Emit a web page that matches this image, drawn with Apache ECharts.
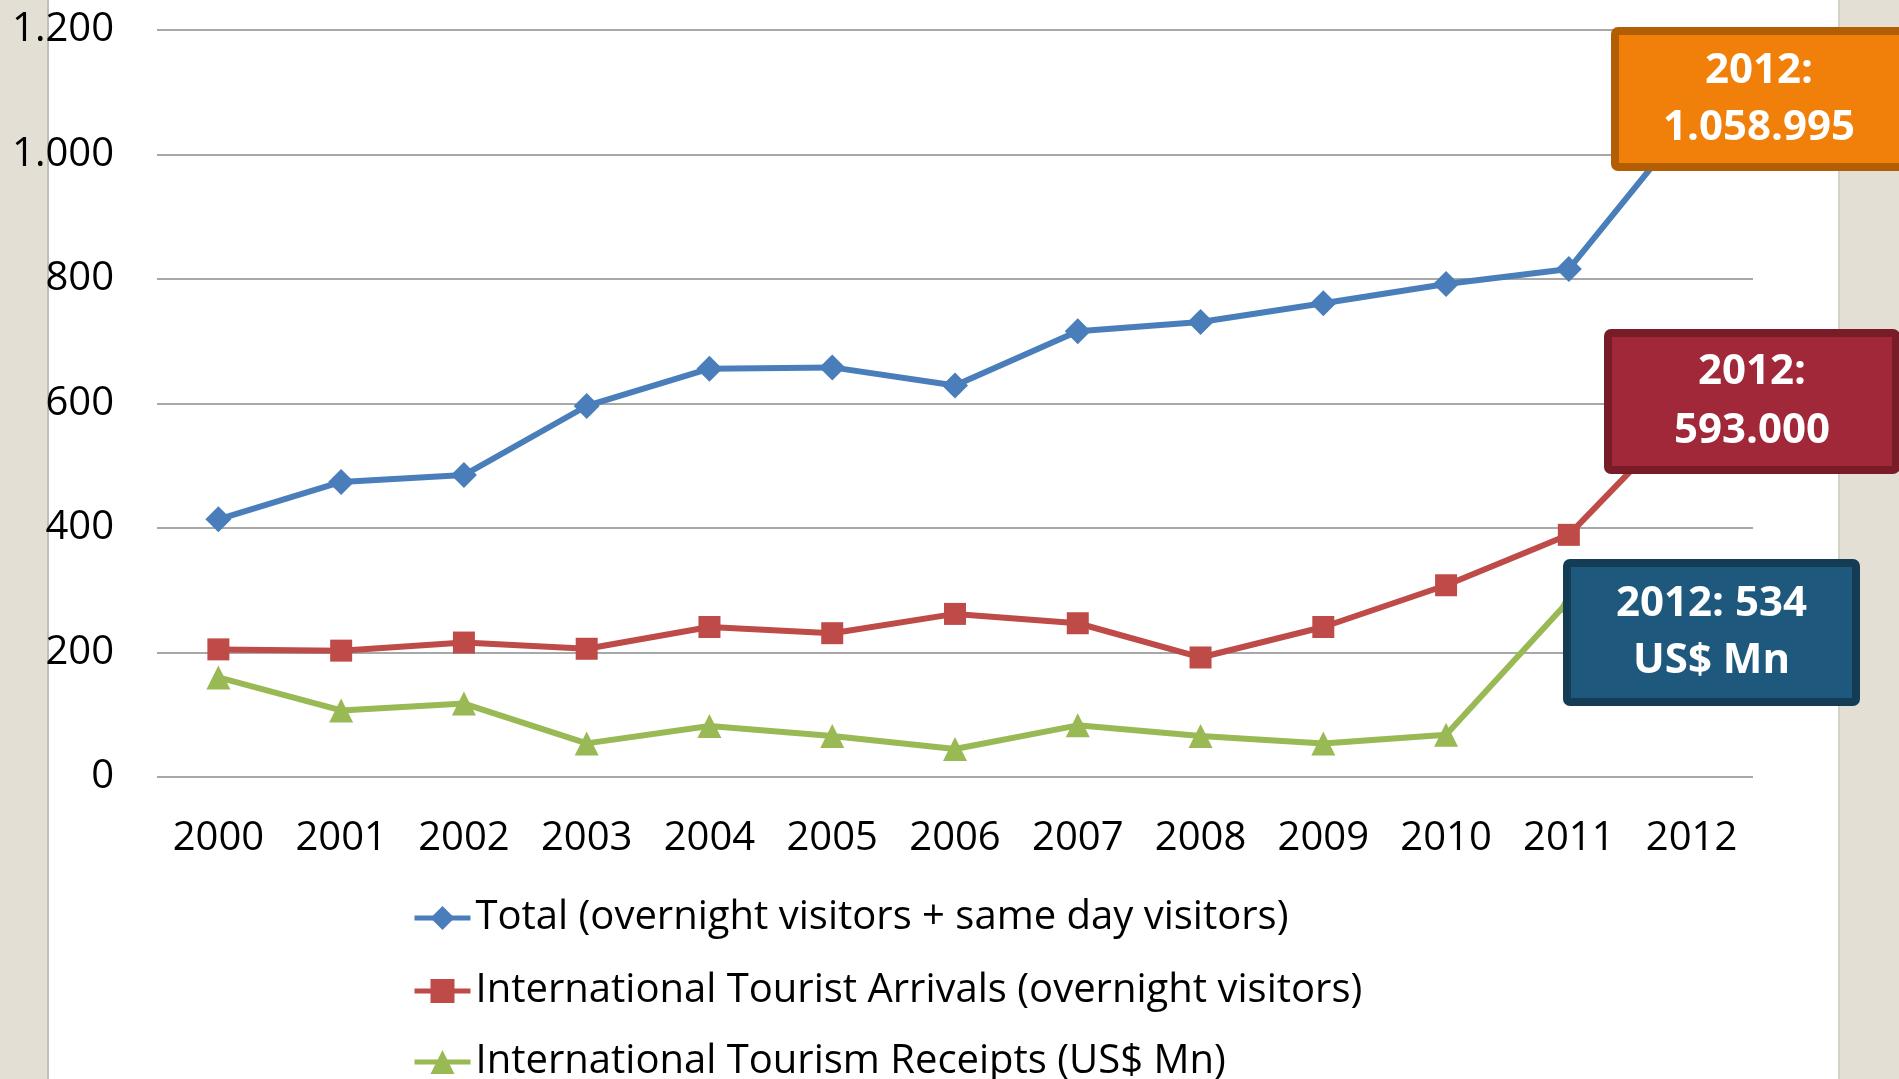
<!DOCTYPE html>
<html>
<head>
<meta charset="utf-8">
<script src="https://cdn.jsdelivr.net/npm/echarts@6/dist/echarts.min.js"></script>
<style>
html,body{margin:0;padding:0;width:1899px;height:1079px;overflow:hidden;}
body{background:linear-gradient(to right,#e4dfd5 0,#e4dfd5 47px,#c4bfb6 47px,#c4bfb6 49px,#ffffff 49px,#ffffff 1838px,#d6d1c7 1838px,#d6d1c7 1840px,#e4dfd5 1840px);}
#c{width:1899px;height:1079px;}
</style>
</head>
<body>
<div id="c"></div>
<script>
const years = ['2000','2001','2002','2003','2004','2005','2006','2007','2008','2009','2010','2011','2012'];
const totalVisitors = [414, 474, 485, 596, 656, 658, 629, 716, 731, 761, 792, 816, 1059];
const touristArrivals = [205, 203, 216, 206, 241, 231, 262, 247, 192, 241, 308, 389, 593];
const tourismReceipts = [160, 107, 118, 54, 82, 66, 45, 83, 66, 54, 68, 283, null];
const seriesNames = [
  'Total (overnight visitors + same day visitors)',
  'International Tourist Arrivals (overnight visitors)',
  'International Tourism Receipts (US$ Mn)'
];
const calloutTexts = [
  ['2012:', '1.058.995'],
  ['2012:', '593.000'],
  ['2012: 534', 'US$ Mn']
];

const chart = echarts.init(document.getElementById('c'));
const FONT = '"Open Sans", "Noto Sans", sans-serif';

function callout(x, y, w, h, fill, stroke, lines, ly1, ly2) {
  const bw = 8;
  return {
    type: 'group',
    z: 100,
    children: [
      { type: 'rect', z: 100,
        shape: { x: x + bw/2, y: y + bw/2, width: w - bw, height: h - bw, r: 3 },
        style: { fill: fill, stroke: stroke, lineWidth: bw } },
      { type: 'text', z: 101,
        style: { x: x + w/2, y: ly1, text: lines[0], fill: '#ffffff', font: 'bold 42px ' + FONT, align: 'center', verticalAlign: 'middle' } },
      { type: 'text', z: 101,
        style: { x: x + w/2, y: ly2, text: lines[1], fill: '#ffffff', font: 'bold 42px ' + FONT, align: 'center', verticalAlign: 'middle' } }
    ]
  };
}

function legendFor(i, top) {
  return {
    orient: 'horizontal',
    left: 407,
    top: top,
    itemWidth: 56,
    itemHeight: 30,
    lineStyle: { width: 5 },
    textStyle: { fontFamily: FONT, fontSize: 40, color: '#000', lineHeight: 44 },
    data: [seriesNames[i]]
  };
}

chart.setOption({
  backgroundColor: 'transparent',
  animation: false,
  grid: { left: 157, right: 146, top: 30, bottom: 302, containLabel: false },
  legend: [legendFor(0, 891), legendFor(1, 964), legendFor(2, 1035)],
  xAxis: {
    type: 'category',
    data: years,
    boundaryGap: true,
    axisLine: { show: false },
    axisTick: { show: false },
    axisLabel: { fontFamily: FONT, fontSize: 40, color: '#000', margin: 42, interval: 0 }
  },
  yAxis: {
    type: 'value',
    min: 0, max: 1200, interval: 200,
    axisLine: { show: false },
    axisTick: { show: false },
    splitLine: { lineStyle: { color: '#a8a8a8', width: 2 } },
    axisLabel: {
      fontFamily: FONT, fontSize: 40, color: '#000', margin: 43,
      formatter: v => String(v).replace(/\B(?=(\d{3})+(?!\d))/g, '.')
    }
  },
  series: [
    { name: seriesNames[0], type: 'line', data: totalVisitors,
      symbol: 'diamond', symbolSize: [26, 26],
      lineStyle: { color: '#4a7ebb', width: 6 }, itemStyle: { color: '#4a7ebb' } },
    { name: seriesNames[1], type: 'line', data: touristArrivals,
      symbol: 'rect', symbolSize: 22,
      lineStyle: { color: '#be4b48', width: 6 }, itemStyle: { color: '#be4b48' } },
    { name: seriesNames[2], type: 'line', data: tourismReceipts,
      symbol: 'triangle', symbolSize: 24, connectNulls: false,
      lineStyle: { color: '#98b954', width: 6 }, itemStyle: { color: '#98b954' } }
  ],
  graphic: [
    callout(1611, 27, 296, 144, '#f0800a', '#b35d05', calloutTexts[0], 71, 128),
    callout(1604, 329, 296, 145, '#a02838', '#781c28', calloutTexts[1], 372, 431),
    callout(1563, 559, 297, 147, '#1e587c', '#143c55', calloutTexts[2], 604, 661)
  ]
});
</script>
</body>
</html>
